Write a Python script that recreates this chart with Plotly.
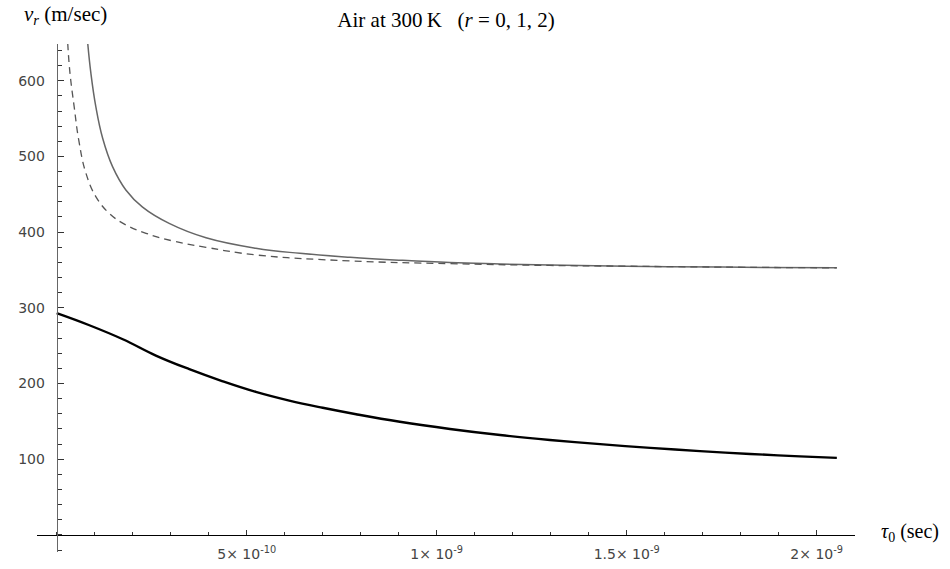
import plotly.graph_objects as go

# tau_0 in units of 1e-9 s, v_r in m/s
tau_r0 = [0.0, 0.086, 0.174, 0.261, 0.349, 0.437, 0.524, 0.612, 0.700, 0.788,
          0.903, 1.035, 1.167, 1.298, 1.430, 1.562, 1.693, 1.825, 1.956, 2.053]
v_r0 = [293, 277, 258.5, 237, 219, 203, 189, 177.5, 168, 159.5,
        149.5, 140, 132, 125.5, 120, 115, 110.8, 107, 103.8, 101.8]

tau_r1 = [0.0816, 0.090, 0.103, 0.121, 0.147, 0.182, 0.226, 0.296, 0.393, 0.524,
          0.640, 0.772, 0.903, 1.035, 1.167, 1.298, 1.500, 1.750, 2.053]
v_r1 = [650, 610, 565.8, 524, 486.5, 455.7, 433, 411.5, 392.5, 378.7,
        372, 366.8, 362.9, 359.8, 358, 356.5, 355, 353.8, 352.8]

tau_r2 = [0.029, 0.035, 0.046, 0.058, 0.077, 0.103, 0.138, 0.182, 0.235, 0.305,
          0.393, 0.524, 0.772, 1.035, 1.298, 1.500, 1.750, 2.053]
v_r2 = [650, 610, 565.8, 521.8, 477.8, 447, 425, 409.5, 398.5, 388.4,
        380, 369.9, 362, 358.4, 356, 355, 353.8, 352.8]

x_tickvals = [5e-10, 1e-9, 1.5e-9, 2e-9]
x_ticktext = ["5× 10<sup>-10</sup>", "1× 10<sup>-9</sup>",
              "1.5× 10<sup>-9</sup>", "2× 10<sup>-9</sup>"]
y_tickvals = [100, 200, 300, 400, 500, 600]
y_ticktext = ["100", "200", "300", "400", "500", "600"]

xr = [-0.0518e-9, 2.1008e-9]
yr = [-22.5, 648.5]

def s(v):
    return [t * 1e-9 for t in v]

fig = go.Figure()
fig.add_trace(go.Scatter(x=s(tau_r0), y=v_r0, mode="lines",
                         line=dict(color="#000000", width=2.4, shape="spline", smoothing=1.2),
                         name="r=0"))
fig.add_trace(go.Scatter(x=s(tau_r1), y=v_r1, mode="lines",
                         line=dict(color="#666666", width=1.5, shape="spline", smoothing=1.2),
                         name="r=1"))
fig.add_trace(go.Scatter(x=s(tau_r2), y=v_r2, mode="lines",
                         line=dict(color="#555555", width=1.3, dash="7px,5px",
                                   shape="spline", smoothing=1.2),
                         name="r=2"))

tickfont = dict(family="DejaVu Sans", size=14, color="#444444")
serif = "Liberation Serif"

W, H = 950, 569
L, R, T, B = 37, 95, 44, 17
PW, PH = W - L - R, H - T - B
fig.update_layout(
    width=W, height=H,
    margin=dict(l=L, r=R, t=T, b=B, autoexpand=False),
    paper_bgcolor="white", plot_bgcolor="white",
    showlegend=False,
    title=dict(text="Air at 300\u2009K\u00a0\u00a0\u00a0(<i>r</i> = 0, 1, 2)",
               x=0.5, xref="paper", xanchor="center",
               y=1 - 20 / H, yanchor="middle",
               font=dict(family=serif, size=21, color="#000000")),
    xaxis=dict(range=xr, showgrid=False, zeroline=False, automargin=False,
               showline=True, linecolor="#000000", linewidth=1,
               anchor="free", position=-yr[0] / (yr[1] - yr[0]),
               tickmode="array", tickvals=x_tickvals, ticktext=x_ticktext,
               ticks="inside", ticklen=5, tickcolor="#333333", tickwidth=1,
               tickfont=tickfont, ticklabelstandoff=6,
               minor=dict(tickmode="linear", tick0=0, dtick=1e-10,
                          ticks="inside", ticklen=3, tickcolor="#333333")),
    yaxis=dict(range=yr, showgrid=False, zeroline=False, automargin=False,
               showline=True, linecolor="#666666", linewidth=1,
               anchor="free", position=-xr[0] / (xr[1] - xr[0]),
               tickmode="array", tickvals=y_tickvals, ticktext=y_ticktext,
               ticks="inside", ticklen=6, tickcolor="#333333", tickwidth=1,
               tickfont=tickfont, ticklabelstandoff=9,
               minor=dict(tickmode="linear", tick0=0, dtick=20,
                          ticks="inside", ticklen=4, tickcolor="#333333")),
)

fig.add_annotation(text="<i>v<sub>r</sub></i> (m/sec)", xref="paper", yref="paper",
                   x=(22 - L) / PW, y=1 + (T - 15) / PH, xanchor="left", yanchor="middle",
                   showarrow=False, font=dict(family=serif, size=21, color="#000000"))
fig.add_annotation(text="<i>τ</i><sub>0</sub> (sec)", xref="paper", yref="y",
                   x=(879 - L) / PW, y=3, xanchor="left", yanchor="middle",
                   showarrow=False, font=dict(family=serif, size=20, color="#000000"))

fig.write_html("out.html", config={"displayModeBar": False},
               post_script="document.body.style.margin='0px';document.body.style.overflow='hidden';")
